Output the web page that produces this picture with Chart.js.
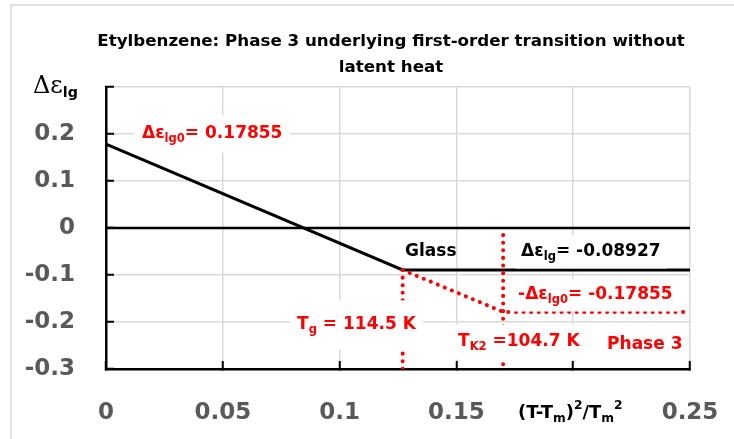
<!DOCTYPE html>
<html>
<head>
<meta charset="utf-8">
<script src="https://cdn.jsdelivr.net/npm/chart.js@4/dist/chart.umd.min.js"></script>
<style>
  html, body { margin: 0; padding: 0; background: #fff; }
  #wrap { width: 734px; height: 439px; }
</style>
</head>
<body>
<div id="wrap"><canvas id="chart" width="734" height="439"></canvas></div>
<script>
// Tick labels (0.2 on x is replaced by the axis title, 0.3 on y by the axis title)
const xTickLabels = ['0', '0.05', '0.1', '0.15', '', '0.25'];
const yTickLabels = ['-0.3', '-0.2', '-0.1', '0', '0.1', '0.2', ''];

// Series
const glassX = [0, 0.127, 0.25];
const glassY = [0.17855, -0.08927, -0.08927];
const zeroX = [0, 0.25];
const zeroY = [0, 0];
const phase3X = [0.127, 0.17, 0.25];
const phase3Y = [-0.08927, -0.17855, -0.17855];
const tgX = [0.127, 0.127];
const tgY = [-0.08927, -0.3];
const tk2X = [0.17, 0.17];
const tk2Y = [-0.015, -0.3];

const RED = '#ff0000';
const FONT = "'DejaVu Sans', sans-serif";

function pts(xs, ys) {
    return xs.map((x, i) => ({ x: x, y: ys[i] }));
}

// Text labels placed in data coordinates (x = left edge, y = vertical middle)
const notes = [
    { parts: [['Δε', ''], ['lg0', 'sub'], ['= 0.17855', '']], x: 0.0154, y: 0.2, color: RED, size: 17, bg: [8, 10] },
    { parts: [['T', ''], ['g', 'sub'], [' = 114.5 K', '']], x: 0.0818, y: -0.206, color: RED, size: 17, bg: [7, 16] },
    { parts: [['Glass', '']], x: 0.128, y: -0.051, color: '#000', size: 17 },
    { parts: [['Δε', ''], ['lg', 'sub'], ['= -0.08927', '']], x: 0.1777, y: -0.051, color: '#000', size: 17, bg: [6, 8] },
    { parts: [['-Δε', ''], ['lg0', 'sub'], ['= -0.17855', '']], x: 0.1764, y: -0.1426, color: RED, size: 17, bg: [6, 8] },
    { parts: [['T', ''], ['K2', 'sub'], [' =104.7 K', '']], x: 0.1507, y: -0.2426, color: RED, size: 17, bg: [4, 9] },
    { parts: [['Phase 3', '']], x: 0.2145, y: -0.249, color: RED, size: 17 }
];

function measureRich(ctx, parts, size, family) {
    let w = 0;
    const pieces = parts.map(p => {
        const mode = p[1];
        const fs = mode ? size * 0.68 : size;
        const font = p[2] || ('bold ' + fs + 'px ' + (family || FONT));
        ctx.font = font;
        const tw = ctx.measureText(p[0]).width;
        const dy = mode === 'sub' ? size * 0.32 : (mode === 'sup' ? -size * 0.38 : 0);
        w += tw;
        return { t: p[0], font: font, tw: tw, dy: dy };
    });
    return { pieces: pieces, width: w };
}

function drawRich(ctx, parts, x, y, size, color) {
    const m = measureRich(ctx, parts, size);
    ctx.fillStyle = color;
    ctx.textAlign = 'left';
    ctx.textBaseline = 'middle';
    let cx = x;
    m.pieces.forEach(p => {
        ctx.font = p.font;
        ctx.fillText(p.t, cx, y + p.dy);
        cx += p.tw;
    });
    return m.width;
}

const textPlugin = {
    id: 'textPlugin',
    beforeDraw(chart) {
        const ctx = chart.ctx;
        ctx.save();
        ctx.fillStyle = '#fff';
        ctx.fillRect(0, 0, chart.width, chart.height);
        ctx.strokeStyle = '#d9d9d9';
        ctx.lineWidth = 1.5;
        ctx.beginPath();
        ctx.moveTo(11, chart.height);
        ctx.lineTo(11, 5);
        ctx.lineTo(chart.width, 5);
        ctx.stroke();
        ctx.restore();
    },
    afterDatasetsDraw(chart) {
        const ctx = chart.ctx;
        const xs = chart.scales.x;
        const ys = chart.scales.y;
        ctx.save();
        notes.forEach(n => {
            const px = xs.getPixelForValue(n.x);
            const py = ys.getPixelForValue(n.y);
            if (n.bg) {
                const w = measureRich(ctx, n.parts, n.size).width;
                ctx.fillStyle = '#fff';
                ctx.fillRect(px - n.bg[0], py - n.size / 2 - n.bg[1], w + 2 * n.bg[0], n.size + 2 * n.bg[1]);
            }
            drawRich(ctx, n.parts, px, py, n.size, n.color);
        });

        // chart title
        ctx.fillStyle = '#000';
        ctx.font = 'bold 16.7px ' + FONT;
        ctx.textAlign = 'center';
        ctx.textBaseline = 'middle';
        ctx.fillText('Etylbenzene: Phase 3 underlying first-order transition without', 391, 42);
        ctx.fillText('latent heat', 391, 68);

        // y axis title
        drawRich(ctx, [['Δε', '', "24px 'DejaVu Serif', serif"], ['lg', 'sub']], 33, 87, 21, '#000');

        // x axis title
        drawRich(ctx, [['(T-T', ''], ['m', 'sub'], [')', ''], ['2', 'sup'], ['/T', ''], ['m', 'sub'], ['2', 'sup']], 518, 413, 18, '#000');
        ctx.restore();
    }
};

function lineSet(data, color, width, dotted) {
    return {
        data: data,
        showLine: true,
        borderColor: color,
        backgroundColor: color,
        borderWidth: width,
        borderDash: dotted ? [0.1, 7.5] : [],
        borderCapStyle: dotted ? 'round' : 'butt',
        pointRadius: 0,
        fill: false,
        tension: 0
    };
}

document.addEventListener('DOMContentLoaded', function() {
    const ctx = document.getElementById('chart').getContext('2d');
    new Chart(ctx, {
        type: 'scatter',
        data: {
            datasets: [
                lineSet(pts(zeroX, zeroY), '#000', 2.5, false),
                lineSet(pts(phase3X, phase3Y), RED, 4, true),
                lineSet(pts(tgX, tgY), RED, 4, true),
                lineSet(pts(tk2X, tk2Y), RED, 4, true),
                lineSet(pts(glassX, glassY), '#000', 3, false)
            ]
        },
        options: {
            responsive: false,
            animation: false,
            layout: {
                padding: { top: 87, right: 44, bottom: 0, left: 0 }
            },
            plugins: {
                legend: { display: false },
                tooltip: { enabled: false },
                title: { display: false }
            },
            scales: {
                x: {
                    type: 'linear',
                    min: 0,
                    max: 0.25,
                    ticks: {
                        stepSize: 0.05,
                        padding: 38,
                        maxRotation: 0,
                        autoSkip: false,
                        color: '#595959',
                        font: { family: FONT, size: 23, weight: 'bold' },
                        callback: (v, i) => xTickLabels[i]
                    },
                    grid: {
                        color: '#d9d9d9',
                        lineWidth: 1.5,
                        tickLength: -8,
                        tickColor: '#000',
                        tickWidth: 2
                    },
                    border: { color: '#000', width: 2.5 },
                    afterFit: s => {
                        s.height = 70;
                        s.paddingLeft = 0;
                        s.paddingRight = 0;
                    }
                },
                y: {
                    min: -0.3,
                    max: 0.3,
                    ticks: {
                        stepSize: 0.1,
                        padding: 39,
                        color: '#595959',
                        font: { family: FONT, size: 23, weight: 'bold' },
                        callback: (v, i) => yTickLabels[i]
                    },
                    grid: {
                        color: '#d9d9d9',
                        lineWidth: 1.5,
                        tickLength: -8,
                        tickColor: '#000',
                        tickWidth: 2
                    },
                    border: { color: '#000', width: 2.5 },
                    afterFit: s => { s.width = 106; }
                }
            }
        },
        plugins: [textPlugin]
    });
});
</script>
</body>
</html>
